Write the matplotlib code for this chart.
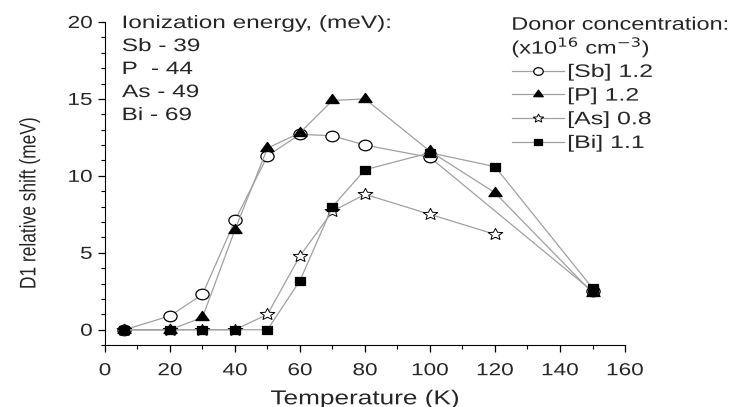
import matplotlib
matplotlib.use("Agg")
import matplotlib.pyplot as plt
from matplotlib import patheffects
from matplotlib.path import Path
from matplotlib.markers import MarkerStyle
from matplotlib.transforms import Affine2D
from matplotlib.ticker import MultipleLocator

# data
temp_sb = [6, 20, 30, 40, 50, 60, 70, 80, 100, 150]
shift_sb = [0, 0.9, 2.3, 7.1, 11.3, 12.7, 12.6, 12.0, 11.2, 2.5]

temp_p = [6, 20, 30, 40, 50, 60, 70, 80, 100, 120, 150]
shift_p = [0, 0, 0.8, 6.5, 11.8, 12.8, 14.9, 15.0, 11.6, 8.9, 2.4]

temp_as = [6, 20, 30, 40, 50, 60, 70, 80, 100, 120]
shift_as = [0, 0, 0, 0, 1.0, 4.8, 7.7, 8.8, 7.5, 6.2]

temp_bi = [6, 20, 30, 40, 50, 60, 70, 80, 100, 120, 150]
shift_bi = [0, 0, 0, 0, 0, 3.2, 8.0, 10.4, 11.5, 10.6, 2.7]

labels = ['[Sb] 1.2', '[P] 1.2', '[As] 0.8', '[Bi] 1.1']
energy_lines = ['Ionization energy, (meV):', 'Sb - 39', 'P  - 44', 'As - 49', 'Bi - 69']
x_ticks = [0, 20, 40, 60, 80, 100, 120, 140, 160]
y_ticks = [0, 5, 10, 15, 20]


# the original picture is stretched sideways, so stretch the text glyphs too
class Stretch(patheffects.AbstractPathEffect):
    def __init__(self, sx=1.3, sy=1.0, anchor=0.0):
        super().__init__()
        self.sx, self.sy, self.anchor = sx, sy, anchor

    def draw_path(self, renderer, gc, tpath, affine, rgbFace=None):
        ext = tpath.get_extents()
        x0 = ext.x0 + self.anchor * ext.width
        t = Affine2D().translate(-x0, 0).scale(self.sx, self.sy).translate(x0, 0)
        renderer.draw_path(gc, tpath, t + affine, rgbFace)


def wide(path, sx=1.25):
    return MarkerStyle(path.transformed(Affine2D().scale(sx, 1)))


m_circle = wide(Path.unit_circle())
m_tri = wide(Path.unit_regular_polygon(3))
m_star = wide(Path.unit_regular_star(5, 0.45))
m_square = wide(Path.unit_rectangle().transformed(Affine2D().translate(-0.5, -0.5)))

plt.rcParams['font.family'] = ['Liberation Sans', 'DejaVu Sans']
txt_c = '#262626'

fig = plt.figure(figsize=(7.31, 4.07), dpi=100)
ax = fig.add_axes([0.1436, 0.152, 0.7114, 0.794])

line_c = '#a0a0a0'
kw = dict(color=line_c, lw=0.9, markeredgecolor='black', markeredgewidth=0.9)
ax.plot(temp_sb, shift_sb, marker=m_circle, markersize=9.5, markerfacecolor='white',
        label=labels[0], **kw)
ax.plot(temp_p, shift_p, marker=m_tri, markersize=9.5, markerfacecolor='black',
        label=labels[1], **kw)
ax.plot(temp_as, shift_as, marker=m_star, markersize=10.5, markerfacecolor='white',
        label=labels[2], **{**kw, 'markeredgewidth': 0.7})
ax.plot(temp_bi, shift_bi, marker=m_square, markersize=7.5, markerfacecolor='black',
        label=labels[3], **kw)

ax.set_xlim(0, 160)
ax.set_ylim(-1, 20)
ax.spines['top'].set_visible(False)
ax.spines['right'].set_visible(False)
ax.set_xticks(x_ticks)
ax.set_yticks(y_ticks)
ax.xaxis.set_minor_locator(MultipleLocator(10))
ax.yaxis.set_minor_locator(MultipleLocator(1))
ax.tick_params(which='major', direction='out', length=5, width=0.9, labelsize=12.5,
               labelcolor=txt_c, pad=4)
ax.tick_params(axis='x', which='major', pad=8)
ax.tick_params(which='minor', direction='out', length=3, width=0.8)
for t in ax.get_xticklabels():
    t.set_path_effects([Stretch(1.3, 1, 0.5)])
for t in ax.get_yticklabels():
    t.set_path_effects([Stretch(1.3, 1, 1.0)])

xl = ax.set_xlabel('Temperature (K)', fontsize=14.5, labelpad=8, color=txt_c)
xl.set_path_effects([Stretch(1.3, 1, 0.5)])
yl = ax.set_ylabel('D1 relative shift (meV)', fontsize=12.5, color=txt_c)
yl.set_path_effects([Stretch(1, 1.3, 0.5)])
ax.yaxis.set_label_coords(-0.128, 0.44)

for i, s in enumerate(energy_lines):
    fig.text(0.167, 0.931 - i * 0.0565, s, fontsize=13, color=txt_c, va='baseline',
             path_effects=[Stretch(1.35)])

fig.text(0.700, 0.927, 'Donor concentration:', fontsize=13, color=txt_c, va='baseline',
         path_effects=[Stretch(1.3)])
fig.text(0.700, 0.868, r'(x10$^{16}$ cm$^{-3}$)', fontsize=13, color=txt_c, va='baseline',
         path_effects=[Stretch(1.3)])

leg = fig.legend(loc='upper left', bbox_to_anchor=(0.700, 0.843), frameon=False,
                 fontsize=13, handlelength=2.9, handletextpad=0.2, labelspacing=0.37,
                 borderaxespad=0, borderpad=0, markerscale=0.72)
for t in leg.get_texts():
    t.set_color(txt_c)
    t.set_path_effects([Stretch(1.38)])

fig.savefig('out.png', dpi=100)
